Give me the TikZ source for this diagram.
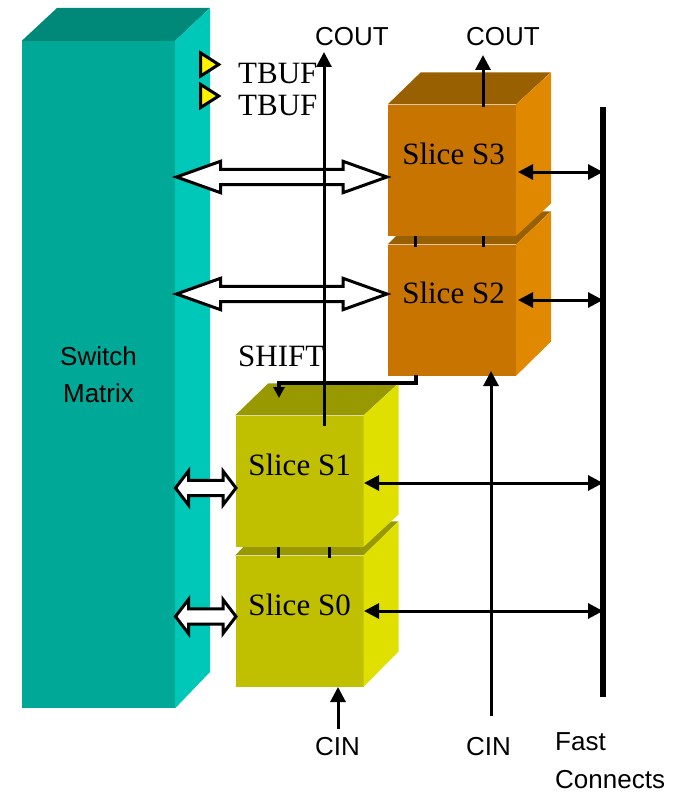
\documentclass[tikz,border=0pt]{standalone}
\usepackage{xcolor}
\usepackage{fontspec}
\setmainfont{Liberation Serif}
\setsansfont{Liberation Sans}
\usepackage{tikz}
\usetikzlibrary{arrows.meta, calc, shapes.geometric}

\definecolor{tealfront}{HTML}{00A898}
\definecolor{tealtop}{HTML}{008878}
\definecolor{tealside}{HTML}{00C8B8}
\definecolor{orangefront}{HTML}{C87400}
\definecolor{orangetop}{HTML}{986000}
\definecolor{orangeside}{HTML}{E08800}
\definecolor{olivefront}{HTML}{C0C000}
\definecolor{olivetop}{HTML}{989800}
\definecolor{oliveside}{HTML}{E0E000}

\begin{document}
\begin{tikzpicture}[x=1pt,y=-1pt,>={Triangle[length=15pt,width=15pt]},
    front/.style={rectangle,inner sep=0pt,minimum width=128pt,minimum height=131pt},
    wire/.style={draw=black,line width=3pt},
    tick/.style={draw=black,line width=3pt},
    bus/.style 2 args={draw=black,fill=white,line width=3pt,
        to path={let \p1=(\tikztostart), \p2=(\tikztotarget) in
            -- (\x1+#1pt,\y1+#2pt) -- (\x1+#1pt,\y1+7.7pt) -- (\x2-#1pt,\y1+7.7pt)
            -- (\x2-#1pt,\y1+#2pt) -- (\x2,\y1) -- (\x2-#1pt,\y1-#2pt)
            -- (\x2-#1pt,\y1-7.7pt) -- (\x1+#1pt,\y1-7.7pt) -- (\x1+#1pt,\y1-#2pt) -- cycle}},
    tbuf/.style={isosceles triangle,isosceles triangle stretches,draw=black,fill=yellow,
        line width=3pt,inner sep=0pt,minimum width=23pt,minimum height=18pt},
    serif/.style={anchor=base west,inner sep=0pt,font=\fontsize{31}{31}\selectfont},
    slicetext/.style={anchor=base,inner sep=0pt,font=\fontsize{31}{31}\selectfont},
    sans/.style={anchor=base west,inner sep=0pt,font=\sffamily\fontsize{26}{26}\selectfont}]
    \useasboundingbox (0,0) rectangle (673,792);

    % switch matrix
    \node[rectangle,inner sep=0pt,minimum width=153pt,minimum height=667pt,fill=tealfront,
        align=center,font=\sffamily\fontsize{26}{37}\selectfont] (swm) at (98.5,374.5) {Switch\\Matrix};
    \fill[tealtop] (swm.north west) -- (57,8) -- (210,8) -- (swm.north east) -- cycle;
    \fill[tealside] (swm.north east) -- (210,8) -- (210,672) -- (swm.south east) -- cycle;

    % slices S2 and S3
    \node[front,fill=orangefront] (s2) at (452,310) {};
    \fill[orangetop] (s2.north west) -- ++(33,-33) -- ++(130,0) -- (s2.north east) -- cycle;
    \fill[orangeside] (s2.north east) -- ++(35,-33) -- ++(0,130) -- (s2.south east) -- cycle;
    \node[front,fill=orangefront] (s3) at (452,170) {};
    \fill[orangetop] (s3.north west) -- ++(33,-32) -- ++(130,0) -- (s3.north east) -- cycle;
    \fill[orangeside] (s3.north east) -- ++(35,-32) -- ++(0,131) -- (s3.south east) -- cycle;
    \node[slicetext] (s3text) at (453.5,164) {Slice S3};
    \node[slicetext] (s2text) at (453.5,303) {Slice S2};

    % slices S0 and S1
    \node[front,fill=olivefront] (s0) at (299.5,621) {};
    \fill[olivetop] (s0.north west) -- ++(33,-34) -- ++(130,0) -- (s0.north east) -- cycle;
    \fill[oliveside] (s0.north east) -- ++(35,-34) -- ++(0,130) -- (s0.south east) -- cycle;
    \node[front,fill=olivefront] (s1) at (299.5,481) {};
    \fill[olivetop] (s1.north west) -- ++(33,-32) -- ++(130,0) -- (s1.north east) -- cycle;
    \fill[oliveside] (s1.north east) -- ++(35,-32) -- ++(0,131) -- (s1.south east) -- cycle;
    \node[slicetext] (s1text) at (299.5,475) {Slice S1};
    \node[slicetext] (s0text) at (299.5,615) {Slice S0};

    % wide arrows
    \coordinate (bus3l) at (176.5,177); \coordinate (bus3r) at (387,177);
    \coordinate (bus2l) at (176.5,294); \coordinate (bus2r) at (387,294);
    \coordinate (bus1l) at (175.5,488); \coordinate (bus1r) at (236,488);
    \coordinate (bus0l) at (175.5,616.5); \coordinate (bus0r) at (236,616.5);
    \draw[bus={44}{15.7}] (bus3l) to (bus3r);
    \draw[bus={44}{15.7}] (bus2l) to (bus2r);
    \draw[bus={13}{17}] (bus1l) to (bus1r);
    \draw[bus={13}{17}] (bus0l) to (bus0r);

    % ticks between the stacked slices
    \draw[tick] (415.5,236) -- (415.5,247);
    \draw[tick] (483,236) -- (483,247);
    \draw[tick] (278,547) -- (278,558);
    \draw[tick] (329.5,547) -- (329.5,558);

    % tbufs
    \node[tbuf] (tbuf1) at (207,64.5) {};
    \node[tbuf] (tbuf2) at (207,96) {};
    \node[serif] (tbuf1text) at (238,83) {TBUF};
    \node[serif] (tbuf2text) at (238,115) {TBUF};

    % carry chain
    \coordinate (cout1s) at (324,426); \coordinate (cout1e) at (324,52);
    \coordinate (cout3s) at (483,107); \coordinate (cout3e) at (483,55);
    \coordinate (cin0s) at (338,729); \coordinate (cin0e) at (338,687);
    \coordinate (cin2s) at (491,716); \coordinate (cin2e) at (491,371);
    \draw[wire,->] (cout1s) -- (cout1e);
    \draw[wire,->] (cout3s) -- (cout3e);
    \draw[wire,->] (cin0s) -- (cin0e);
    \draw[wire,->] (cin2s) -- (cin2e);
    \node[sans] (cout1) at (315,46) {COUT};
    \node[sans] (cout3) at (466,46) {COUT};
    \node[sans] (cin0) at (315,755) {CIN};
    \node[sans] (cin2) at (466,755) {CIN};

    % shift chain
    \node[serif] (shift) at (238,366) {SHIFT};
    \coordinate (shifts) at (416,375); \coordinate (shifte) at (279,398);
    \draw[wire,line width=3.5pt,-{Triangle[length=11pt,width=11pt]}] (shifts) -- ++(0,8) -| (shifte);

    % fast connects
    \coordinate (bartop) at (603,107); \coordinate (barbot) at (603,697);
    \draw[black,line width=6pt] (bartop) -- (barbot);
    \coordinate (fc3) at (518,172); \coordinate (fc2) at (518,300);
    \coordinate (fc1) at (364,483); \coordinate (fc0) at (364,611);
    \draw[wire,<->] (fc3) -- (fc3 -| bartop);
    \draw[wire,<->] (fc2) -- (fc2 -| bartop);
    \draw[wire,<->] (fc1) -- (fc1 -| bartop);
    \draw[wire,<->] (fc0) -- (fc0 -| bartop);
    \node[sans] (fast) at (555,750) {Fast};
    \node[sans] (connects) at (555,788) {Connects};
\end{tikzpicture}
\end{document}
